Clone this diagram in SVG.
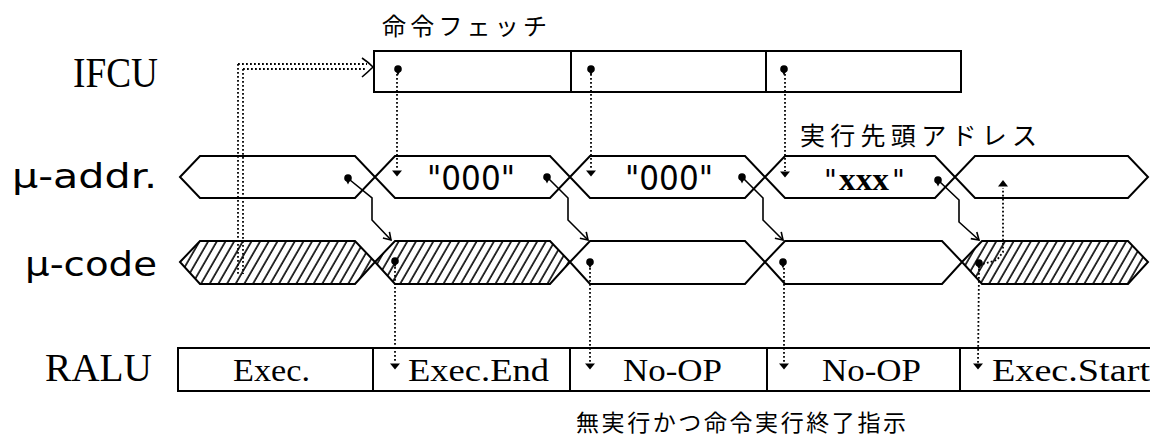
<svg xmlns="http://www.w3.org/2000/svg" width="1150" height="438" viewBox="0 0 1150 438">
<style>
.box{fill:#fff;stroke:#000;stroke-width:2}
.hex{fill:#fff;stroke:#000;stroke-width:2;stroke-linejoin:miter}
.hatch{fill:url(#hatch);stroke:#000;stroke-width:2}
.dot{fill:none;stroke:#000;stroke-width:1.8;stroke-dasharray:1.8 2.2}
.solid{fill:none;stroke:#000;stroke-width:1.6}
.serif{font-family:"Liberation Serif",serif;fill:#000}
.sans{font-family:"DejaVu Sans","Liberation Sans",sans-serif;fill:#000}
.cjk{font-family:"Noto Sans CJK JP",sans-serif;fill:#000}
</style>
<defs>
<pattern id="hatch" patternUnits="userSpaceOnUse" width="7.5" height="10" patternTransform="rotate(30)">
<rect width="7.5" height="10" fill="#fff"/>
<line x1="1" y1="0" x2="1" y2="10" stroke="#000" stroke-width="1.6"/>
</pattern>
<marker id="arr" markerUnits="userSpaceOnUse" markerWidth="12" markerHeight="12" refX="9" refY="6" orient="auto">
<path d="M2,1.5 L9,6 L2,10.5" fill="none" stroke="#000" stroke-width="1.6"/>
</marker>
<g id="pin"><circle cx="0" cy="0" r="3.8" fill="#000"/><path d="M-2.2,2 L0,6.5 L2.2,2Z" fill="#000"/></g>
<path id="tdn" d="M-5,-2.5 L5,-2.5 L0,3.5Z" fill="#000"/>
<path id="tup" d="M-5,3.5 L5,3.5 L0,-3Z" fill="#000"/>
</defs>

<g id="labels">
<text class="serif" x="73" y="87" font-size="42" textLength="85" lengthAdjust="spacingAndGlyphs">IFCU</text>
<text class="sans" x="12" y="188" font-size="33" textLength="145" lengthAdjust="spacingAndGlyphs">μ-addr.</text>
<text class="sans" x="25" y="276" font-size="34" textLength="132" lengthAdjust="spacingAndGlyphs">μ-code</text>
<text class="serif" x="45" y="381" font-size="41" textLength="107" lengthAdjust="spacingAndGlyphs">RALU</text>
</g>

<g id="ifcu">
<rect class="box" x="374" y="51" width="587" height="41"/>
<line x1="571" y1="51" x2="571" y2="92" stroke="#000" stroke-width="2"/>
<line x1="766" y1="51" x2="766" y2="92" stroke="#000" stroke-width="2"/>
<text class="cjk" x="382" y="35" font-size="24" textLength="165" lengthAdjust="spacing">命令フェッチ</text>
</g>

<g id="uaddr">
<polygon class="hex" points="180,177 200,156 355,156 375,177 355,198 200,198"/>
<polygon class="hex" points="375,177 395,156 550,156 570,177 550,198 395,198"/>
<polygon class="hex" points="570,177 590,156 745,156 765,177 745,198 590,198"/>
<polygon class="hex" points="765,177 785,156 935,156 955,177 935,198 785,198"/>
<polygon class="hex" points="955,177 975,156 1128,156 1148,177 1128,198 975,198"/>
<text class="sans" x="427" y="190" font-size="33" textLength="88" lengthAdjust="spacingAndGlyphs">"000"</text>
<text class="sans" x="625" y="190" font-size="33" textLength="88" lengthAdjust="spacingAndGlyphs">"000"</text>
<text class="sans" x="824" y="190" font-size="28">"</text>
<text class="serif" x="839" y="190" font-size="32" font-weight="bold" textLength="50" lengthAdjust="spacingAndGlyphs">xxx</text>
<text class="sans" x="892" y="190" font-size="28">"</text>
<text class="cjk" x="800" y="145" font-size="25" textLength="237" lengthAdjust="spacing">実行先頭アドレス</text>
</g>

<g id="ucode">
<polygon class="hatch" points="180,262 200,241 355,241 375,262 355,284 200,284"/>
<polygon class="hatch" points="375,262 395,241 550,241 570,262 550,284 395,284"/>
<polygon class="hex" points="570,262 590,241 745,241 765,262 745,284 590,284"/>
<polygon class="hex" points="765,262 785,241 942,241 962,262 942,284 785,284"/>
<polygon class="hatch" points="962,262 982,241 1128,241 1148,262 1128,284 982,284"/>
</g>

<g id="ralu">
<rect class="box" x="178" y="348" width="990" height="43"/>
<line x1="373" y1="348" x2="373" y2="391" stroke="#000" stroke-width="2"/>
<line x1="570" y1="348" x2="570" y2="391" stroke="#000" stroke-width="2"/>
<line x1="767" y1="348" x2="767" y2="391" stroke="#000" stroke-width="2"/>
<line x1="960" y1="348" x2="960" y2="391" stroke="#000" stroke-width="2"/>
<text class="serif" x="233" y="381" font-size="31" textLength="77" lengthAdjust="spacingAndGlyphs">Exec.</text>
<text class="serif" x="408" y="381" font-size="31" textLength="141" lengthAdjust="spacingAndGlyphs">Exec.End</text>
<text class="serif" x="623" y="381" font-size="31" textLength="99" lengthAdjust="spacingAndGlyphs">No-OP</text>
<text class="serif" x="822" y="381" font-size="31" textLength="99" lengthAdjust="spacingAndGlyphs">No-OP</text>
<text class="serif" x="992" y="381" font-size="31" textLength="158" lengthAdjust="spacingAndGlyphs">Exec.Start</text>
<text class="cjk" x="576" y="431" font-size="23" textLength="330" lengthAdjust="spacing">無実行かつ命令実行終了指示</text>
</g>

<g id="connectors">
<line class="dot" x1="238" y1="64" x2="238" y2="274"/>
<line class="dot" x1="243" y1="69" x2="243" y2="274"/>
<line class="dot" x1="238" y1="64" x2="367" y2="64"/>
<line class="dot" x1="243" y1="69" x2="367" y2="69"/>
<path class="solid" d="M362,58 Q368,62 373,67 Q368,72 362,77"/>
<line class="dot" x1="397" y1="74" x2="397" y2="170"/>
<line class="dot" x1="591" y1="74" x2="591" y2="170"/>
<line class="dot" x1="785" y1="74" x2="785" y2="171"/>
<path class="solid" marker-end="url(#arr)" d="M350,180 L372,198 L372,220 L391,240"/>
<path class="solid" marker-end="url(#arr)" d="M549,179 L568,198 L568,220 L588,240"/>
<path class="solid" marker-end="url(#arr)" d="M744,179 L763,198 L763,220 L783,240"/>
<path class="solid" marker-end="url(#arr)" d="M940,182 L959,200 L959,222 L979,240"/>
<line class="dot" x1="395" y1="267" x2="395" y2="363"/>
<line class="dot" x1="590" y1="268" x2="590" y2="363"/>
<line class="dot" x1="784" y1="268" x2="784" y2="363"/>
<line class="dot" x1="979" y1="269" x2="978" y2="363"/>
<path class="dot" d="M983,264 L997,260 L1003,252 L1003,188"/>
<use href="#pin" x="398" y="69"/>
<use href="#pin" x="591" y="69"/>
<use href="#pin" x="784" y="69"/>
<use href="#pin" x="348" y="178"/>
<use href="#pin" x="547" y="177"/>
<use href="#pin" x="742" y="177"/>
<use href="#pin" x="938" y="180"/>
<use href="#pin" x="395" y="261"/>
<use href="#pin" x="590" y="262"/>
<use href="#pin" x="783" y="262"/>
<use href="#pin" x="979" y="263"/>
<use href="#tdn" x="397" y="173"/>
<use href="#tdn" x="591" y="173"/>
<use href="#tdn" x="785" y="174"/>
<use href="#tup" x="1003" y="183"/>
<use href="#tdn" x="395" y="366"/>
<use href="#tdn" x="590" y="366"/>
<use href="#tdn" x="784" y="366"/>
<use href="#tdn" x="978" y="366"/>
</g>
</svg>
